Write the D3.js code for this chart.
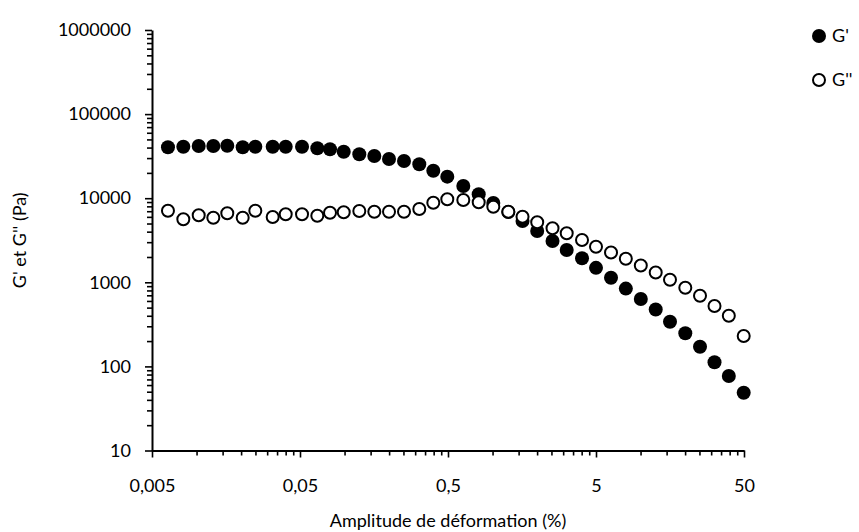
<!DOCTYPE html>
<html><head><meta charset="utf-8">
<script src="https://cdn.jsdelivr.net/npm/d3@7"></script>
<style>
html,body{margin:0;padding:0;background:#fff;}
svg text{font-family:Lato,"Open Sans",sans-serif;fill:#000;}
</style></head>
<body><svg id="c" width="859" height="532"></svg>
<script>
// Data
const strain = [0.00641,0.00814,0.01034,0.01298,0.01613,0.0205,0.02495,0.03269,0.04003,0.0516,
  0.06546,0.07975,0.0987,0.1258,0.1589,0.1997,0.2522,0.3199,0.3978,0.4945,
  0.6344,0.8061,1.012,1.278,1.594,2.003,2.542,3.17,4.022,5.0,
  6.316,7.953,10.04,12.66,15.81,20.06,25.22,31.6,39.48,49.77];
const gPrime = [40300,40950,41780,41780,42100,40300,40950,40950,40950,40950,
  39200,38150,35700,33270,31760,29240,27680,25300,21240,18030,
  13960,11120,8770,6850,5360,4075,3097,2421,1929,1486,
  1132,842,633,475,340,248,171,112,76.9,48.7];
const gDouble = [7100,5613,6266,5863,6610,5863,7100,5975,6436,6436,
  6194,6725,6795,7043,6909,6909,6909,7443,8837,9705,
  9520,8935,7925,6909,6025,5170,4387,3827,3184,2650,
  2261,1908,1585,1309,1074,860,691,523,401,230];
const xTicks = [0.005,0.05,0.5,5,50];
const xTickLabels = ["0,005","0,05","0,5","5","50"];
const yTicks = [10,100,1000,10000,100000,1000000];
const yTickLabels = ["10","100","1000","10000","100000","1000000"];
const seriesNames = ["G'","G''"];
const xTitle = "Amplitude de déformation (%)";
const yTitle = "G' et G'' (Pa)";

const svg = d3.select("#c");
const L = 152, R = 744, T = 30, B = 450.5;
const x = d3.scaleLog().domain([0.005,50]).range([L,R]);
const y = d3.scaleLog().domain([10,1000000]).range([B,T]);

function minors(majors){
  const out=[];
  for(let i=0;i<majors.length-1;i++) for(let k=2;k<=9;k++) out.push(majors[i]*k);
  return out;
}
const fs = 18;
// minor ticks
svg.append("g").attr("transform",`translate(0,${B})`)
  .call(d3.axisBottom(x).tickValues(minors(xTicks)).tickSize(5).tickFormat(""))
  .call(g=>{g.select(".domain").remove();g.selectAll("line").attr("stroke","#000").attr("stroke-width",1.6);});
svg.append("g").attr("transform",`translate(${L},0)`)
  .call(d3.axisLeft(y).tickValues(minors(yTicks)).tickSize(5).tickFormat(""))
  .call(g=>{g.select(".domain").remove();g.selectAll("line").attr("stroke","#000").attr("stroke-width",1.6);});
// major axes
const xa = svg.append("g").attr("transform",`translate(0,${B})`)
  .call(d3.axisBottom(x).tickValues(xTicks).tickSize(7).tickSizeOuter(0).tickPadding(22)
    .tickFormat((d,i)=>xTickLabels[i]));
const ya = svg.append("g").attr("transform",`translate(${L},0)`)
  .call(d3.axisLeft(y).tickValues(yTicks).tickSize(7).tickSizeOuter(0).tickPadding(14)
    .tickFormat((d,i)=>yTickLabels[i]));
[xa,ya].forEach(g=>{
  g.select(".domain").attr("stroke","#000").attr("stroke-width",2);
  g.selectAll("line").attr("stroke","#000").attr("stroke-width",1.6);
  g.selectAll("text").style("font-family","Lato,'Open Sans',sans-serif").style("font-size",fs+"px").attr("fill","#000");
});

// titles
svg.append("text").attr("x",(L+R)/2).attr("y",527).attr("text-anchor","middle")
  .style("font-size",fs+"px").text(xTitle);
svg.append("text").attr("transform",`translate(26,${(T+B)/2}) rotate(-90)`).attr("text-anchor","middle")
  .style("font-size",fs+"px").text(yTitle);

// series
const data = strain.map((s,i)=>({s, g1:gPrime[i], g2:gDouble[i]}));
svg.append("g").selectAll("circle").data(data).join("circle")
  .attr("cx",d=>x(d.s)).attr("cy",d=>y(d.g1)).attr("r",7).attr("fill","#000");
svg.append("g").selectAll("circle").data(data).join("circle")
  .attr("cx",d=>x(d.s)).attr("cy",d=>y(d.g2)).attr("r",6).attr("fill","#fff")
  .attr("stroke","#000").attr("stroke-width",2);

// legend
const lg = svg.append("g");
lg.append("circle").attr("cx",819).attr("cy",36).attr("r",7).attr("fill","#000");
lg.append("text").attr("x",832).attr("y",36).attr("dy","0.35em").style("font-size",fs+"px").text(seriesNames[0]);
lg.append("circle").attr("cx",819).attr("cy",80).attr("r",6).attr("fill","#fff").attr("stroke","#000").attr("stroke-width",2);
lg.append("text").attr("x",832).attr("y",80).attr("dy","0.35em").style("font-size",fs+"px").text(seriesNames[1]);
</script></body></html>
